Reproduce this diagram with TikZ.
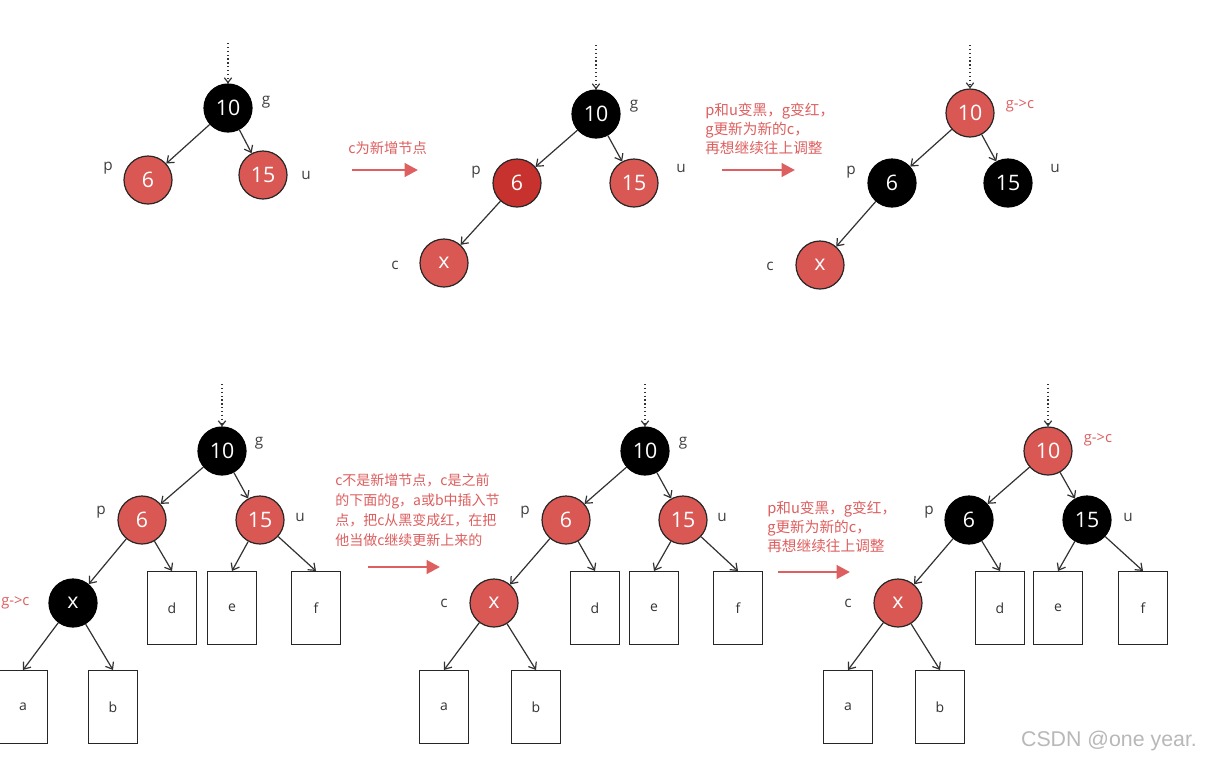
\documentclass[tikz,border=0pt]{standalone}
\usepackage{fontspec}
\setmainfont{Open Sans}
\newfontfamily\cjk{Noto Sans CJK SC}
\newfontfamily\wmfont{Liberation Sans}
\usetikzlibrary{arrows.meta}
\definecolor{nred}{RGB}{217,88,84}
\definecolor{dred}{RGB}{200,50,46}
\definecolor{tred}{RGB}{222,95,95}
\definecolor{edgec}{RGB}{50,50,50}
\begin{document}
\begin{tikzpicture}[x=0.75pt,y=-0.75pt,
 rn/.style={circle,fill=nred,draw=black!85,line width=0.9pt,minimum size=36pt,inner sep=0pt,text=white,font=\fontsize{16}{18}\selectfont},
 bn/.style={rn,fill=black,draw=black},
 leaf/.style={rectangle,draw=black!85,line width=0.8pt,minimum width=36.75pt,minimum height=54.75pt,inner sep=0pt,font=\fontsize{10.5}{12}\selectfont,text=black!80},
 lbl/.style={text=black!75,font=\fontsize{11.5}{13}\selectfont,inner sep=0pt},
 rlbl/.style={text=tred,font=\fontsize{11}{13}\selectfont,inner sep=0pt},
 edge/.style={draw=edgec,line width=0.9pt,-{Straight Barb[length=4.5pt,width=7pt]}},
 dotarr/.style={draw=black!80,dotted,line width=0.9pt,-{Straight Barb[length=3.5pt,width=5.5pt]}},
 note/.style={text=tred,font=\cjk\fontsize{11}{14}\selectfont,align=left,inner sep=0pt,anchor=west},
 bigarrow/.style={draw=tred,line width=2.2pt,-{Triangle[length=10pt,width=10pt]}}
]
\useasboundingbox (0,0) rectangle (1206,761);
\fill[white] (0,0) rectangle (1206,761);

% ---------- top-left ----------
\node[bn] (g1) at (228,108) {10};
\node[rn] (p1) at (148,180) {6};
\node[rn] (u1) at (263,175) {15};
\coordinate (t1) at (228,43);
\draw[dotarr] (t1) -- (g1);
\draw[edge] (g1) -- (p1);
\draw[edge] (g1) -- (u1);
\node[lbl] (lg1) at (266,102) {g};
\node[lbl] (lp1) at (108,168) {p};
\node[lbl] (lu1) at (306,175) {u};
\node[note,font=\cjk\fontsize{10.7}{14}\selectfont] (n1) at (348,148) {c为新增节点};
\coordinate (a1s) at (352,170); \coordinate (a1e) at (418,170);
\draw[bigarrow] (a1s) -- (a1e);

% ---------- top-middle ----------
\node[bn] (g2) at (596,114) {10};
\node[rn,fill=dred] (p2) at (517,183) {6};
\node[rn] (u2) at (634,183) {15};
\node[rn] (c2) at (444,263) {x};
\coordinate (t2) at (596,45);
\draw[dotarr] (t2) -- (g2);
\draw[edge] (g2) -- (p2);
\draw[edge] (g2) -- (u2);
\draw[edge] (p2) -- (c2);
\node[lbl] (lg2) at (634,106) {g};
\node[lbl] (lp2) at (476,172) {p};
\node[lbl] (lu2) at (681,168) {u};
\node[lbl] (lc2) at (395,265) {c};
\node[note] (n2) at (705,129) {p和u变黑，g变红，\\g更新为新的c，\\再想继续往上调整};
\coordinate (a2s) at (722,170); \coordinate (a2e) at (795,170);
\draw[bigarrow] (a2s) -- (a2e);

% ---------- top-right ----------
\node[rn] (g3) at (970,113) {10};
\node[bn] (p3) at (892,183) {6};
\node[bn] (u3) at (1008,183) {15};
\node[rn] (c3) at (820,265) {x};
\coordinate (t3) at (970,45);
\draw[dotarr] (t3) -- (g3);
\draw[edge] (g3) -- (p3);
\draw[edge] (g3) -- (u3);
\draw[edge] (p3) -- (c3);
\node[rlbl] (lg3) at (1020,106) {g->c};
\node[lbl] (lp3) at (851,172) {p};
\node[lbl] (lu3) at (1055,168) {u};
\node[lbl] (lc3) at (770,266) {c};

% ---------- bottom-left ----------
\node[bn] (g4) at (222,451) {10};
\node[rn] (p4) at (142,520) {6};
\node[rn] (u4) at (260,520) {15};
\node[bn] (c4) at (73,603) {x};
\node[leaf] (a4) at (23,707) {a};
\node[leaf] (b4) at (113,707) {b};
\node[leaf] (d4) at (172,608) {d};
\node[leaf] (e4) at (232,608) {e};
\node[leaf] (f4) at (316,608) {f};
\coordinate (t4) at (222,384);
\draw[dotarr] (t4) -- (g4);
\draw[edge] (g4) -- (p4);
\draw[edge] (g4) -- (u4);
\draw[edge] (p4) -- (c4);
\draw[edge] (p4) -- (d4.north);
\draw[edge] (u4) -- (e4.north);
\draw[edge] (u4) -- (f4.north);
\draw[edge] (c4) -- (a4.north);
\draw[edge] (c4) -- (b4.north);
\node[lbl] (lg4) at (259,443) {g};
\node[lbl] (lp4) at (101,512) {p};
\node[lbl] (lu4) at (300,517) {u};
\node[rlbl,anchor=west] (lc4) at (1,603) {g->c};
\node[note,font=\cjk\fontsize{10.5}{15}\selectfont] (n4) at (335,510) {c不是新增节点，c是之前\\的下面的g，a或b中插入节\\点，把c从黑变成红，在把\\他当做c继续更新上来的};
\coordinate (a4s) at (368,567); \coordinate (a4e) at (440,567);
\draw[bigarrow] (a4s) -- (a4e);

% ---------- bottom-middle ----------
\node[bn] (g5) at (645,451) {10};
\node[rn] (p5) at (566,520) {6};
\node[rn] (u5) at (683,520) {15};
\node[rn] (c5) at (494,603) {x};
\node[leaf] (a5) at (444,707) {a};
\node[leaf] (b5) at (536,707) {b};
\node[leaf] (d5) at (595,608) {d};
\node[leaf] (e5) at (654,608) {e};
\node[leaf] (f5) at (738,608) {f};
\coordinate (t5) at (645,384);
\draw[dotarr] (t5) -- (g5);
\draw[edge] (g5) -- (p5);
\draw[edge] (g5) -- (u5);
\draw[edge] (p5) -- (c5);
\draw[edge] (p5) -- (d5.north);
\draw[edge] (u5) -- (e5.north);
\draw[edge] (u5) -- (f5.north);
\draw[edge] (c5) -- (a5.north);
\draw[edge] (c5) -- (b5.north);
\node[lbl] (lg5) at (683,443) {g};
\node[lbl] (lp5) at (525,512) {p};
\node[lbl] (lu5) at (722,517) {u};
\node[lbl] (lc5) at (444,603) {c};
\node[note] (n5) at (767,527) {p和u变黑，g变红，\\g更新为新的c，\\再想继续往上调整};
\coordinate (a5s) at (778,572); \coordinate (a5e) at (850,572);
\draw[bigarrow] (a5s) -- (a5e);

% ---------- bottom-right ----------
\node[rn] (g6) at (1048,451) {10};
\node[bn] (p6) at (969,520) {6};
\node[bn] (u6) at (1087,520) {15};
\node[rn] (c6) at (898,603) {x};
\node[leaf] (a6) at (848,707) {a};
\node[leaf] (b6) at (940,707) {b};
\node[leaf] (d6) at (1000,608) {d};
\node[leaf] (e6) at (1058,608) {e};
\node[leaf] (f6) at (1143,608) {f};
\coordinate (t6) at (1048,384);
\draw[dotarr] (t6) -- (g6);
\draw[edge] (g6) -- (p6);
\draw[edge] (g6) -- (u6);
\draw[edge] (p6) -- (c6);
\draw[edge] (p6) -- (d6.north);
\draw[edge] (u6) -- (e6.north);
\draw[edge] (u6) -- (f6.north);
\draw[edge] (c6) -- (a6.north);
\draw[edge] (c6) -- (b6.north);
\node[rlbl] (lg6) at (1098,440) {g->c};
\node[lbl] (lp6) at (929,512) {p};
\node[lbl] (lu6) at (1128,517) {u};
\node[lbl] (lc6) at (848,603) {c};

\node[text=black!28,font=\wmfont\fontsize{16}{18}\selectfont,inner sep=0pt] (wm) at (1109,741) {CSDN @one year.};
\end{tikzpicture}
\end{document}
